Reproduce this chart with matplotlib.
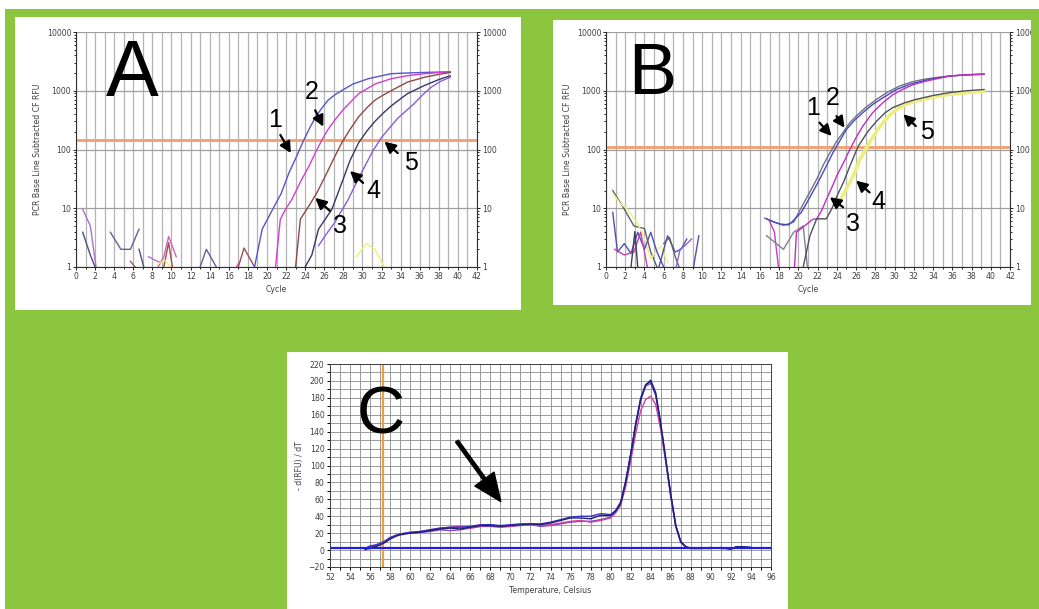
import matplotlib
matplotlib.use('Agg')
import matplotlib.pyplot as plt
from matplotlib.patches import Rectangle, FancyArrowPatch
from matplotlib.ticker import MultipleLocator, LogLocator, NullFormatter

# ---------------- data: panel A (amplification, cycles vs RFU) ----------------
a1_x = [18.7, 19.5, 20.6, 21.5, 22.3, 23.0, 23.7, 24.4, 25.1, 25.8, 26.4, 27.1, 27.8, 29.0, 30.6, 32.0, 33.0, 34.5, 36.5, 38.0, 39.2]
a1_y = [1, 4.4, 9.6, 18, 40, 70, 127, 220, 360, 520, 690, 850, 1000, 1300, 1600, 1800, 1950, 2000, 2050, 2080, 2100]
a2_x = [20.9, 21.4, 22.0, 22.6, 23.5, 24.4, 25.1, 25.75, 26.4, 27.1, 28.0, 29.6, 31.3, 33.0, 34.7, 36.5, 38.2, 39.2]
a2_y = [1, 6.5, 10, 14, 28, 52, 90, 145, 220, 316, 480, 890, 1300, 1600, 1800, 1950, 2050, 2080]
a3_x = [23.0, 23.5, 24.4, 25.2, 26.1, 27.0, 27.8, 28.7, 29.6, 30.5, 31.3, 32.2, 33.0, 34.7, 36.5, 38.0, 39.2]
a3_y = [1, 6.5, 11, 18, 35, 70, 127, 220, 360, 520, 690, 850, 1000, 1400, 1700, 1900, 2050]
a4_x = [24.0, 24.7, 25.4, 26.1, 26.8, 27.8, 28.7, 29.6, 30.5, 31.3, 32.2, 33.0, 34.7, 36.5, 38.0, 39.2]
a4_y = [1, 1.6, 4.4, 6.5, 9.6, 26, 65, 130, 210, 300, 420, 550, 890, 1230, 1550, 1800]
a5_x = [25.4, 26.2, 27.1, 27.8, 28.5, 29.4, 30.2, 31.1, 32.0, 32.9, 33.7, 34.6, 35.4, 36.3, 37.2, 38.2, 39.2]
a5_y = [2.3, 3.6, 5.7, 9, 14, 28, 50, 95, 160, 240, 340, 460, 600, 850, 1150, 1450, 1700]
a_threshold = 145
a_noise_x = [[0.7, 1.5, 2.1], [0.7, 1.5, 2.0], [3.6, 4.7, 5.7, 6.6], [5.7, 6.2], [6.6, 7.1],
             [7.6, 8.3, 8.8], [8.6, 9.2, 9.7, 10.5], [9.2, 9.7, 10.1], [8.5, 9.3, 9.9],
             [13.0, 13.65, 14.7], [16.8, 17.1], [17.0, 17.6, 18.7], [29.4, 30.4, 31.3, 32.3]]
a_noise_y = [[9.6, 5, 1], [3.9, 1.6, 1], [3.9, 2.0, 2.0, 4.4], [1.25, 1.0], [2.0, 1.0],
             [1.5, 1.3, 1.2], [1.0, 1.5, 3.3, 1.5], [1.0, 2.6, 1.0], [1.1, 1.3, 1.0],
             [1.0, 2.0, 1.0], [1.0, 1.2], [1.0, 2.1, 1.0], [1.5, 2.5, 2.0, 1.0]]
a_noise_c = ['#B070D0', '#505080', '#6060A0', '#A06060', '#505080', '#B070D0', '#D060C0',
             '#A05050', '#F0F080', '#6060A0', '#D060C0', '#A05050', '#F0F070']

# ---------------- data: panel B ----------------
b1_x = [16.5, 17.5, 18.45, 19.5, 20.5, 21.2, 21.9, 22.6, 23.3, 24.0, 24.65, 25.3, 26.0, 27.0, 28.1, 29.3, 30.5, 31.7, 32.9, 34.3, 35.7, 37.4, 39.3]
b1_y = [6.8, 5.8, 5.1, 5.8, 11.8, 19, 31, 55, 89, 140, 195, 280, 370, 520, 710, 950, 1200, 1400, 1550, 1680, 1780, 1850, 1900]
b2_x = [16.7, 17.5, 18.1, 19.0, 19.65, 20.3, 20.9, 21.5, 22.2, 22.9, 23.6, 24.3, 25.0, 25.8, 26.7, 27.7, 28.8, 30.2, 31.6, 33.5, 35.7, 37.5, 39.3]
b2_y = [6.6, 5.8, 5.4, 5.2, 6.6, 8.5, 12.6, 19, 31, 52, 89, 140, 220, 310, 425, 580, 760, 1050, 1290, 1550, 1780, 1870, 1920]
b3_x = [19.6, 19.8, 20.9, 21.5, 21.9, 22.4, 22.9, 23.5, 24.0, 24.7, 25.35, 26.0, 26.7, 27.7, 28.8, 29.8, 30.8, 32.0, 33.2, 35.7, 37.5, 39.3]
b3_y = [1.0, 3.9, 5.4, 6.5, 6.6, 9, 14, 23, 36, 60, 100, 160, 250, 420, 630, 850, 1050, 1280, 1450, 1780, 1880, 1920]
b4_x = [20.5, 21.2, 21.9, 22.9, 23.5, 24.0, 24.7, 25.35, 26.2, 27.2, 28.1, 29.0, 29.8, 31.0, 32.2, 34.0, 35.7, 37.5, 39.3]
b4_y = [1.0, 3.4, 6.6, 6.6, 10, 16, 28, 52, 112, 200, 300, 420, 515, 620, 710, 830, 930, 1000, 1050]
b5_x = [24.3, 24.8, 25.35, 25.9, 26.4, 26.9, 27.4, 28.1, 28.8, 29.6, 30.5, 31.3, 32.2, 34.0, 35.7, 37.5, 39.3]
b5_y = [13.5, 19, 27.5, 42, 69, 95, 132, 200, 288, 400, 515, 600, 665, 780, 870, 930, 980]
b_threshold = 112
b_noise_x = [[0.7, 1.7, 2.9, 4.0, 4.65, 5.3], [0.7, 1.5, 2.2, 3.3, 4.0, 4.65, 5.7, 6.4],
             [0.7, 1.2, 1.9, 2.6, 3.3, 4.0, 4.65, 5.3, 6.0], [0.9, 1.9, 2.9, 3.6, 4.3],
             [5.5, 6.4, 7.2, 7.8, 8.4], [6.0, 6.6, 7.2, 7.6], [7.3, 7.7, 8.2, 8.9], [9.1, 9.65],
             [2.6, 3.0, 3.3], [17.0, 17.5, 18.0], [16.7, 18.45, 19.5, 20.5, 21.0]]
b_noise_y = [[20, 11, 5, 4.5, 1.8, 1.0], [18, 12, 9.7, 5.5, 3.0, 1.4, 2.3, 1.2],
             [8.5, 1.8, 2.5, 1.7, 3.9, 2.0, 3.9, 1.8, 1.0], [2.0, 1.6, 1.8, 3.9, 1.0],
             [1.0, 3.4, 1.8, 2.0, 3.0], [2.5, 3.2, 1.5, 1.0], [1.0, 2.0, 2.3, 3.0], [1.0, 3.4],
             [1.0, 4.0, 1.0], [6.0, 4.0, 0.8], [3.4, 2.0, 3.9, 5.0, 0.8]]
b_noise_c = ['#606070', '#F0F080', '#5050B0', '#C040C0', '#5050B0', '#606070', '#9060D0',
             '#5050B0', '#404050', '#C040C0', '#808090']

# ---------------- data: panel C (melt curves) ----------------
c_temp = [55.5, 56.0, 56.5, 57.0, 57.5, 58.0, 58.5, 59.0, 60.0, 61.0, 62.0, 63.0, 64.0, 65.0, 66.0,
          67.0, 68.0, 69.0, 70.0, 71.0, 72.0, 73.0, 74.0, 75.0, 76.0, 77.0, 78.0, 79.0, 80.0, 80.5,
          81.0, 81.5, 82.0, 82.5, 83.0, 83.5, 84.0, 84.5, 85.0, 85.5, 86.0, 86.5, 87.0, 87.5, 88.0,
          89.0, 90.0, 91.0, 92.0, 92.5, 93.0, 94.0]
c_navy = [1, 3, 4, 6, 9, 13, 16, 18, 20, 21, 23, 25, 26, 25, 27, 29, 29, 28, 29, 30, 31, 30, 32, 35, 38,
          38, 37, 41, 41, 46, 55, 80, 112, 148, 178, 195, 201, 186, 150, 108, 66, 29, 10, 4, 2, 2, 2,
          3, 1, 4, 4, 3]
c_blue = [2, 5, 6, 8, 11, 15, 17, 19, 21, 22, 24, 26, 27, 27, 28, 30, 30, 29, 30, 31, 31, 31, 33, 36, 39,
          40, 40, 43, 42, 47, 57, 82, 114, 150, 180, 196, 199, 184, 148, 106, 64, 28, 9, 4, 2, 2, 3,
          2, 2, 3, 4, 3]
c_magenta = [0, 2, 4, 7, 10, 14, 17, 19, 21, 22, 24, 26, 27, 28, 26, 28, 30, 28, 28, 30, 30, 29, 30, 32,
             34, 35, 33, 35, 38, 44, 53, 75, 105, 138, 165, 178, 182, 172, 142, 104, 63, 28, 9, 4, 2, 2,
             3, 2, 2, 3, 3, 2]
c_violet = [1, 3, 5, 7, 10, 14, 17, 19, 20, 21, 22, 24, 23, 24, 26, 28, 28, 27, 28, 29, 30, 28, 29, 31,
            33, 34, 34, 36, 39, 45, 56, 81, 113, 148, 178, 194, 197, 183, 147, 106, 65, 29, 10, 4, 2, 2,
            2, 3, 1, 3, 4, 3]
c_baseline = 2
c_marker_temp = 57.25

cycle_ticks = list(range(0, 43, 2))
log_ticks = [1, 10, 100, 1000, 10000]
log_labels = ['1', '10', '100', '1000', '10000']

# ---------------- layout ----------------
W, H = 1039, 609
GREEN = '#8CC63E'
fig = plt.figure(figsize=(W / 100, H / 100), dpi=100, facecolor=GREEN)


def rect_px(x0, y0, x1, y1):
    return [x0 / W, 1 - y1 / H, (x1 - x0) / W, (y1 - y0) / H]


def add_box(x0, y0, x1, y1, color='white', z=-5):
    l, b, w, h = rect_px(x0, y0, x1, y1)
    fig.add_artist(Rectangle((l, b), w, h, transform=fig.transFigure,
                             facecolor=color, edgecolor='none', zorder=z))


add_box(0, 0, W, 9)
add_box(0, 0, 5, H)
add_box(15, 17, 521, 310)
add_box(553, 20, 1031, 305)
add_box(287, 352, 788, 609)
add_box(1031, 9, W, H, color=GREEN, z=20)

TXT = '#404040'
SMALL = 5.6


def style_log(ax, thr):
    ax.set_yscale('log')
    ax.set_xlim(0, 42)
    ax.set_ylim(1, 10000)
    ax.set_xticks(cycle_ticks)
    ax.xaxis.set_minor_locator(MultipleLocator(1))
    ax.set_yticks(log_ticks)
    ax.set_yticklabels(log_labels)
    ax.yaxis.set_minor_locator(LogLocator(subs=range(2, 10)))
    ax.yaxis.set_minor_formatter(NullFormatter())
    ax.grid(which='both', axis='x', color='#b4b4b4', lw=0.9)
    ax.grid(which='major', axis='y', color='#a0a0a0', lw=0.9)
    ax.tick_params(which='both', labelsize=SMALL, labelcolor=TXT, right=True, labelright=True,
                   length=2, width=0.6, pad=1.5)
    ax.tick_params(which='minor', length=1.5)
    ax.spines['top'].set_visible(False)
    for s in ['left', 'right', 'bottom']:
        ax.spines[s].set_color('#303030')
        ax.spines[s].set_linewidth(0.8)
    ax.set_axisbelow(True)
    ax.axhline(thr, color='#F0A070', lw=2.0, zorder=2)
    ax.set_xlabel('Cycle', fontsize=SMALL, color=TXT, labelpad=3)
    ax.set_ylabel('PCR Base Line Subtracted CF RFU', fontsize=SMALL, color=TXT, labelpad=3)


def arrow(ax, tail, head, lw=1.6):
    ax.annotate('', xy=head, xytext=tail,
                arrowprops=dict(arrowstyle='-|>,head_length=0.55,head_width=0.28', lw=lw,
                                color='black', shrinkA=0, shrinkB=0, mutation_scale=12), zorder=6)


# ---------------- panel A ----------------
axA = fig.add_axes(rect_px(76, 32, 477, 267))
style_log(axA, a_threshold)
for xs, ys, c in zip(a_noise_x, a_noise_y, a_noise_c):
    axA.plot(xs, ys, color=c, lw=1.0)
axA.plot(a1_x, a1_y, color='#5555CC', lw=1.0, zorder=3)
axA.plot(a2_x, a2_y, color='#D040D0', lw=1.0, zorder=3)
axA.plot(a3_x, a3_y, color='#904848', lw=1.0, zorder=3)
axA.plot(a4_x, a4_y, color='#383868', lw=1.0, zorder=3)
axA.plot(a5_x, a5_y, color='#8A5CDC', lw=1.0, zorder=3)
axA.text(5.9, 1820, 'A', fontsize=57, family='Liberation Sans', ha='center', va='center', zorder=6)
for lab, pos, tail, head in [('1', (20.9, 316), (21.4, 177), (22.5, 87)),
                             ('2', (24.7, 950), (25.05, 466), (25.9, 245)),
                             ('3', (27.65, 5.0), (26.6, 9.0), (25.06, 15)),
                             ('4', (31.1, 19.6), (30.07, 27), (28.7, 43)),
                             ('5', (35.1, 59), (33.7, 87), (32.3, 136))]:
    axA.text(pos[0], pos[1], lab, fontsize=18, family='Liberation Sans', ha='center', va='center', zorder=6)
    arrow(axA, tail, head)

# ---------------- panel B ----------------
axB = fig.add_axes(rect_px(606, 32, 1010, 267))
style_log(axB, b_threshold)
for xs, ys, c in zip(b_noise_x, b_noise_y, b_noise_c):
    axB.plot(xs, ys, color=c, lw=1.0)
axB.plot(b5_x, b5_y, color='#EDED80', lw=2.6, zorder=3)
axB.plot(b1_x, b1_y, color='#707088', lw=1.0, zorder=3)
axB.plot(b2_x, b2_y, color='#4848C0', lw=1.0, zorder=3)
axB.plot(b3_x, b3_y, color='#C030C0', lw=1.0, zorder=3)
axB.plot(b4_x, b4_y, color='#505060', lw=1.0, zorder=3)
axB.text(4.83, 1820, 'B', fontsize=52, family='Liberation Sans', ha='center', va='center', zorder=6)
for lab, pos, tail, head in [('1', (21.55, 515), (22.2, 286), (23.45, 170)),
                             ('2', (23.6, 760), (23.96, 370), (24.8, 235)),
                             ('3', (25.7, 5.4), (24.65, 10.4), (23.27, 15.4)),
                             ('4', (28.3, 12.6), (27.4, 18.6), (26.0, 29.5)),
                             ('5', (33.4, 195), (32.2, 251), (30.9, 398))]:
    axB.text(pos[0], pos[1], lab, fontsize=18, family='Liberation Sans', ha='center', va='center', zorder=6)
    arrow(axB, tail, head)

# ---------------- panel C ----------------
axC = fig.add_axes(rect_px(330, 364, 771, 567))
axC.set_xlim(52, 96)
axC.set_ylim(-20, 220)
axC.xaxis.set_major_locator(MultipleLocator(2))
axC.xaxis.set_minor_locator(MultipleLocator(1))
axC.yaxis.set_major_locator(MultipleLocator(20))
axC.yaxis.set_minor_locator(MultipleLocator(10))
axC.grid(which='both', color='#8c8c8c', lw=0.6)
axC.set_axisbelow(True)
axC.tick_params(which='both', labelsize=SMALL, labelcolor=TXT, length=2.5, width=0.7, pad=1.5)
for s in axC.spines.values():
    s.set_color('#404040')
    s.set_linewidth(0.7)
axC.axvline(c_marker_temp, color='#E8A040', lw=1.6, zorder=2)
axC.plot(c_temp, c_violet, color='#8844CC', lw=1.0, zorder=3)
axC.plot(c_temp, c_magenta, color='#D0409C', lw=1.0, zorder=3)
axC.plot(c_temp, c_blue, color='#3333CC', lw=1.0, zorder=3)
axC.plot(c_temp, c_navy, color='#202070', lw=1.0, zorder=3)
axC.axhline(c_baseline, color='#1E1EE0', lw=1.6, zorder=4)
axC.set_xlabel('Temperature, Celsius', fontsize=SMALL, color=TXT, labelpad=3)
axC.set_ylabel('- d(RFU) / dT', fontsize=SMALL, color=TXT, labelpad=3)
axC.text(57.07, 158, 'C', fontsize=48, family='Liberation Sans', ha='center', va='center', zorder=6)
axC.add_patch(FancyArrowPatch((64.5, 131.5), (69.2, 54.7),
                              arrowstyle='simple,head_length=2.0,head_width=1.7,tail_width=0.24',
                              mutation_scale=10, color='black', zorder=6))

fig.savefig('out.png', dpi=100, facecolor=GREEN)
